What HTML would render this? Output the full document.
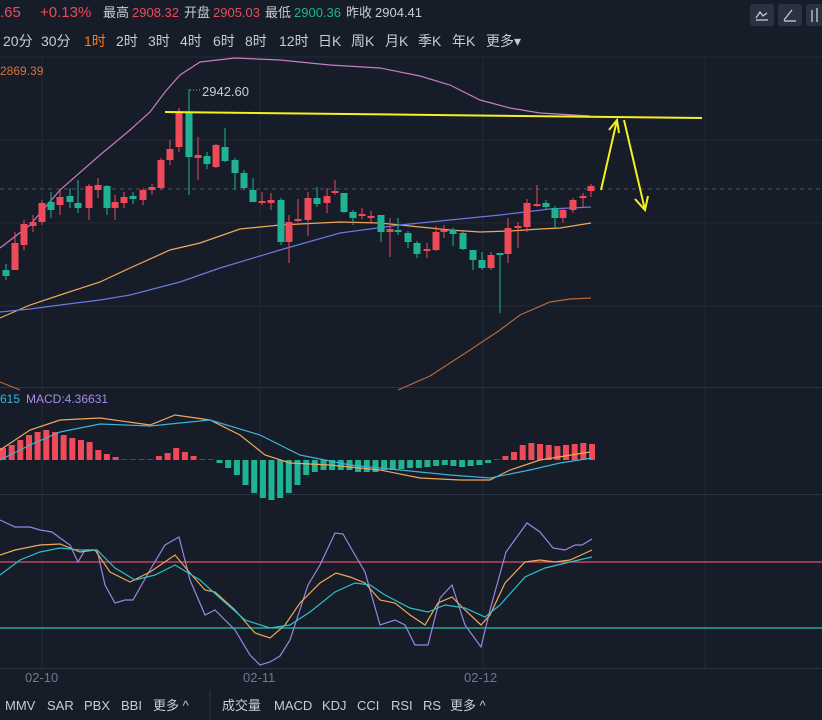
<!DOCTYPE html>
<html><head><meta charset="utf-8"><style>
body{margin:0;background:#161c28;width:822px;height:720px;overflow:hidden;font-family:"Liberation Sans","Noto Sans CJK SC",sans-serif}
svg{position:absolute;left:0;top:0}
</style></head><body>
<svg id="s" width="822" height="720" xmlns="http://www.w3.org/2000/svg">
<rect width="822" height="720" fill="#161c28"/>
<g stroke="#222a38" stroke-width="1">
<line x1="0" y1="57" x2="822" y2="57"/><line x1="0" y1="140" x2="822" y2="140"/><line x1="0" y1="223" x2="822" y2="223"/><line x1="0" y1="306" x2="822" y2="306"/>
<line x1="42" y1="57" x2="42" y2="668"/><line x1="260" y1="57" x2="260" y2="668"/><line x1="483" y1="57" x2="483" y2="668"/><line x1="705" y1="57" x2="705" y2="668"/>
</g>
<g stroke="#2c3444"><line x1="0" y1="387.5" x2="822" y2="387.5"/><line x1="0" y1="494.5" x2="822" y2="494.5"/><line x1="0" y1="668.5" x2="822" y2="668.5"/><line x1="210" y1="690" x2="210" y2="720"/></g>
<line x1="0" y1="189" x2="822" y2="189" stroke="#4a4f5c" stroke-dasharray="4,4"/>
<g id="g"></g>
<g font-size="13" fill="#c8ccd6">
<text x="0" y="17" fill="#ee4a5a" font-size="15">.65</text><text x="40" y="17" fill="#ee4a5a" font-size="15">+0.13%</text>
<text x="103" y="17">最高</text><text x="132" y="17" fill="#ee4a5a">2908.32</text>
<text x="184" y="17">开盘</text><text x="213" y="17" fill="#ee4a5a">2905.03</text>
<text x="265" y="17">最低</text><text x="294" y="17" fill="#1fb394">2900.36</text>
<text x="346" y="17">昨收</text><text x="375" y="17">2904.41</text>
<g font-size="14"><text x="3" y="46">20分</text><text x="41" y="46">30分</text><text x="84" y="46" fill="#ff7a1a">1时</text><text x="116" y="46">2时</text><text x="148" y="46">3时</text><text x="180" y="46">4时</text><text x="213" y="46">6时</text><text x="245" y="46">8时</text><text x="279" y="46">12时</text><text x="318" y="46">日K</text><text x="351" y="46">周K</text><text x="385" y="46">月K</text><text x="418" y="46">季K</text><text x="452" y="46">年K</text><text x="486" y="46">更多▾</text></g>
<text x="0" y="75" fill="#d9733a" font-size="12">2869.39</text>
<text x="202" y="96" fill="#c8ccd6" font-size="13">2942.60</text>
<text x="0" y="403" fill="#3bb4d8" font-size="12">615</text><text x="26" y="403" fill="#a88ee8" font-size="12">MACD:4.36631</text>
<g fill="#6f7a8c" font-size="13"><text x="25" y="682">02-10</text><text x="243" y="682">02-11</text><text x="464" y="682">02-12</text></g>
<g font-size="13"><text x="5" y="710">MMV</text><text x="47" y="710">SAR</text><text x="84" y="710">PBX</text><text x="121" y="710">BBI</text><text x="153" y="710">更多 ^</text>
<text x="222" y="710">成交量</text><text x="274" y="710">MACD</text><text x="322" y="710">KDJ</text><text x="357" y="710">CCI</text><text x="391" y="710">RSI</text><text x="423" y="710">RS</text><text x="450" y="710">更多 ^</text></g>
</g>
<g fill="#2a3242"><rect x="750" y="4" width="24" height="22" rx="3"/><rect x="778" y="4" width="24" height="22" rx="3"/><rect x="806" y="4" width="24" height="22" rx="3"/></g>
<g stroke="#c8ccd6" fill="none" stroke-width="1.3"><path d="M756 18l4-6 3 4 4-3"/><path d="M756 20h12"/><path d="M784 20l8-10"/><path d="M784 21h12"/><path d="M812 10v12M817 8v14"/></g>
</svg>
<script>
const g=document.getElementById('g');let h='';
const R='#ee4a5a',G='#1fb394';
function pl(pts,c,w){h+=`<polyline fill="none" stroke="${c}" stroke-width="${w||1.2}" points="${pts.map(p=>p.join(',')).join(' ')}"/>`}
pl([[0,248],[30,225],[60,190],[100,155],[130,130],[150,112],[165,92],[180,75],[200,62],[235,58],[280,60],[330,65],[380,68],[420,76],[450,85],[480,100],[510,108],[540,113],[590,116]],'#c77dc0');
pl([[0,382],[20,390]],'#b8693a');pl([[398,390],[430,376],[470,350],[500,330],[520,315],[550,302],[570,299],[591,298]],'#b8693a');
pl([[0,318],[30,305],[60,295],[100,282],[130,268],[170,250],[200,243],[240,229],[280,225],[340,222],[380,223],[420,227],[450,230],[480,232],[510,231],[540,229],[560,228],[591,223]],'#f0a85a');
pl([[0,312],[30,309],[60,305],[100,300],[130,295],[180,282],[220,268],[280,250],[340,233],[400,225],[450,220],[500,215],[550,209],[591,207]],'#6a78e0');
const C=[[6,270,276,264,280,G],[15,243,270,232,270,R],[24,224,245,220,250,R],[33,222,226,215,232,R],[42,203,222,200,225,R],[51,202,210,192,218,G],[60,197,205,190,215,R],[70,196,202,188,208,G],[78,203,208,180,213,G],[89,186,208,184,220,R],[98,185,190,178,198,R],[107,186,208,185,215,G],[115,202,208,195,220,R],[124,197,203,192,208,R],[133,196,199,192,204,G],[143,190,200,188,205,R],[152,187,190,184,195,R],[161,160,188,158,190,R],[170,149,160,140,165,R],[179,113,147,108,152,R],[189,112,157,89,195,G],[198,155,158,137,180,R],[207,156,164,152,169,G],[216,145,167,144,168,R],[225,147,161,128,162,G],[235,160,173,158,190,G],[244,173,188,170,190,G],[253,190,202,178,202,G],[262,201,203,192,205,R],[271,200,203,193,210,R],[281,200,242,198,245,G],[289,222,242,215,263,R],[298,219,221,199,222,R],[308,198,220,192,236,R],[317,198,204,187,207,G],[327,196,203,188,213,R],[335,191,193,180,195,R],[344,193,212,193,213,G],[353,212,218,210,225,G],[362,214,216,208,219,R],[371,216,218,211,224,R],[381,215,232,215,242,G],[390,229,232,218,257,R],[398,230,232,218,235,G],[408,233,242,231,248,G],[417,243,254,241,258,G],[427,249,251,243,258,R],[436,232,250,226,251,R],[444,230,232,225,238,R],[453,230,234,228,246,G],[463,233,249,231,250,G],[473,250,260,250,270,G],[482,260,268,252,270,G],[491,255,268,252,270,R],[500,253,255,253,313,G],[508,228,254,218,263,R],[518,226,228,222,248,R],[527,203,227,199,232,R],[537,204,206,185,207,R],[546,203,207,200,210,G],[555,208,218,206,228,G],[563,210,218,208,223,R],[573,200,210,198,213,R],[583,196,198,193,207,R],[591,186,191,184,197,R]];
for(const[x,t,b,wt,wb,c]of C){h+=`<line x1="${x}" y1="${wt}" x2="${x}" y2="${wb}" stroke="${c}" stroke-width="1"/><rect x="${x-3.5}" y="${t}" width="7" height="${Math.max(2,b-t)}" fill="${c}"/>`}
h+=`<line x1="190" y1="90" x2="200" y2="90" stroke="#aaa" stroke-dasharray="1,2"/>`;
h+=`<g stroke="#f5f020" stroke-width="2" fill="none"><line x1="165" y1="112" x2="702" y2="118"/><path d="M601 190L617 120M609 130L617 120L619 133"/><path d="M624 120L645 210M635 199L645 210L648 196"/></g>`;
const hv=[12,15,20,25,28,30,28,25,22,20,18,10,6,3,0.5,0.5,0.5,0.5,4,7,12,8,4,0.5,0.5,-3,-8,-15,-25,-33,-38,-40,-38,-33,-25,-15,-12,-10,-10,-10,-10,-12,-12,-12,-10,-10,-9,-8,-8,-7,-6,-5,-6,-7,-6,-5,-3,0.5,4,8,15,17,16,15,14,15,16,17,16];
const sp=589/(hv.length-1);
hv.forEach((v,i)=>{const x=3+i*sp;const c=v>0?R:G;h+=`<rect x="${(x-3).toFixed(1)}" y="${v>0?460-v:460}" width="6" height="${Math.abs(v)}" fill="${c}"/>`});
pl([[0,450],[30,430],[60,420],[100,418],[150,425],[175,415],[210,420],[240,435],[265,455],[290,463],[330,465],[380,470],[420,478],[460,480],[490,480],[510,470],[540,460],[590,452]],'#f0a85a');
pl([[0,460],[30,445],[60,432],[100,424],[150,426],[210,420],[260,435],[300,455],[350,465],[400,470],[450,475],[490,478],[530,470],[560,463],[592,458]],'#3bb4d8');
h+=`<line x1="0" y1="562" x2="822" y2="562" stroke="#d9506a" stroke-width="1.3"/><line x1="0" y1="628" x2="822" y2="628" stroke="#2bc0b0" stroke-width="1.3"/>`;
pl([[0,520],[15,527],[30,527],[40,530],[52,532],[60,538],[70,545],[78,562],[85,550],[97,550],[105,585],[115,603],[125,600],[133,600],[150,570],[165,545],[179,537],[190,580],[205,615],[215,610],[235,630],[250,655],[260,665],[270,662],[280,656],[290,640],[308,585],[320,565],[335,533],[343,534],[355,555],[365,572],[380,625],[395,620],[405,625],[415,645],[428,645],[440,598],[452,585],[465,625],[481,647],[490,610],[506,552],[527,523],[540,532],[553,548],[565,550],[575,545],[582,545],[592,539]],'#9b86e0');
pl([[0,555],[15,550],[40,545],[60,544],[80,552],[95,550],[110,572],[130,582],[150,572],[175,555],[190,573],[205,590],[215,592],[235,610],[255,633],[270,638],[285,625],[300,603],[320,583],[336,573],[350,577],[365,583],[380,600],[395,603],[410,615],[425,625],[438,603],[452,597],[465,610],[481,625],[490,615],[505,583],[525,562],[540,560],[555,562],[570,560],[592,550]],'#f0a85a');
pl([[0,575],[20,560],[40,552],[60,548],[80,550],[97,550],[115,568],[135,580],[155,575],[175,565],[200,580],[220,598],[245,620],[270,628],[290,625],[310,612],[335,592],[355,583],[370,585],[385,595],[410,608],[428,612],[445,605],[465,608],[485,617],[500,605],[525,577],[545,568],[570,562],[592,557]],'#2bc0c8');
g.innerHTML=h;
</script>
</body></html>
